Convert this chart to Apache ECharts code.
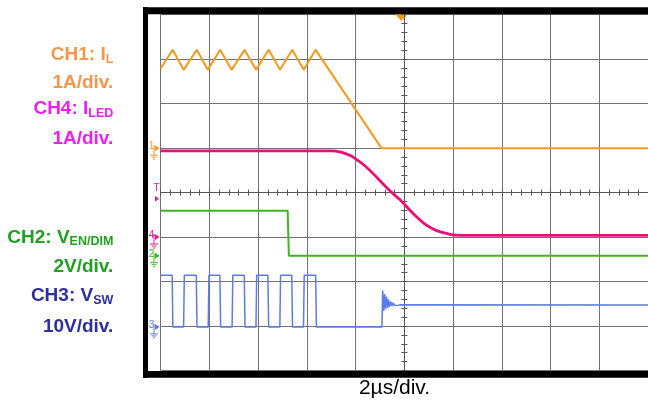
<!DOCTYPE html>
<html><head><meta charset="utf-8">
<script src="https://cdn.jsdelivr.net/npm/echarts@6/dist/echarts.min.js"></script>
<style>html,body{margin:0;padding:0;background:#fff}#c{width:648px;height:402px}</style>
</head><body><div id="c"></div>
<script>
// ---------- data (time in µs, 0 = trigger / screen centre) ----------
const ilTime  = [-10, -9.51, -9.06, -8.52, -8.07, -7.56, -7.09, -6.56, -6.09, -5.57, -5.10, -4.60, -4.13, -3.64, -0.94, 10];
const ilAmp   = [1.79, 2.21, 1.76, 2.21, 1.76, 2.21, 1.76, 2.21, 1.76, 2.21, 1.76, 2.21, 1.76, 2.21, 0, 0];

const iledTime = [-10, -3.0, -2.6, -2.2, -2.0, -1.75, -1.53, -1.25, -0.99, -0.7, -0.43, -0.2, 0, 0.25, 0.51, 0.78, 1.05, 1.3, 1.59, 1.99, 2.5, 10];
const iledAmp  = [1.94, 1.94, 1.91, 1.83, 1.76, 1.66, 1.56, 1.41, 1.26, 1.10, 0.96, 0.85, 0.74, 0.59, 0.45, 0.32, 0.22, 0.15, 0.10, 0.05, 0.04, 0.04];

const venTime = [-10, -4.79, -4.74, 10];
const venVolt = [2.02, 2.02, 0, 0];

const vswTime = [-10, -9.53, -9.50, -9.06, -9.03, -8.54, -8.51, -8.05, -8.02, -7.57, -7.54, -7.07, -7.04, -6.57, -6.54, -6.09, -6.06, -5.60, -5.57, -5.11, -5.08, -4.62, -4.59, -4.14, -4.11, -3.64, -3.61, -0.92,
                 -0.89, -0.85, -0.81, -0.77, -0.73, -0.69, -0.65, -0.61, -0.56, -0.51, -0.46, -0.40, -0.33, -0.25, -0.15, 10];
const vswVolt = [11.6, 11.6, 0, 0, 11.6, 11.6, 0, 0, 11.6, 11.6, 0, 0, 11.6, 11.6, 0, 0, 11.6, 11.6, 0, 0, 11.6, 11.6, 0, 0, 11.6, 11.6, 0, 0,
                 8.2, 3.6, 7.4, 4.0, 6.8, 4.3, 6.2, 4.5, 5.7, 4.7, 5.4, 4.8, 5.2, 4.9, 5.0, 4.9];

// channel texts
const channelNames  = ['CH1: I', 'CH4: I', 'CH2: V', 'CH3: V'];
const channelSubs   = ['L', 'LED', 'EN/DIM', 'SW'];
const channelScales = ['1A/div.', '1A/div.', '2V/div.', '10V/div.'];
const channelNums   = ['1', '4', '2', '3'];
const timeScaleLabel = '2µs/div.';

// ---------- styling ----------
const traceColors = ['#F39A1E', '#EC0C7A', '#3CB521', '#5A7BEA'];
const textColors  = ['#F7964A', '#F01EF0', '#1FA01F', '#2E2EA0'];
const gridColor = '#727272';
const FONT = '"Liberation Sans", Arial, sans-serif';

const zip = (a, b) => a.map((v, i) => [v, b[i]]);

const chart = echarts.init(document.getElementById('c'), null, {renderer: 'canvas'});

const centreAxisX = (pos, split) => ({
  type: 'value', min: -10, max: 10, interval: 2, position: pos,
  axisLine: {show: true, onZero: true, onZeroAxisIndex: 0, lineStyle: {color: '#555', width: 1}},
  axisTick: {show: true, inside: false, length: 3, lineStyle: {color: '#555'}},
  minorTick: {show: true, splitNumber: 5, length: 3, lineStyle: {color: '#555'}},
  axisLabel: {show: false},
  splitLine: {show: split, lineStyle: {color: gridColor, width: 1}}
});
const centreAxisY = (pos, split) => ({
  type: 'value', min: -4, max: 4, interval: 1, position: pos,
  axisLine: {show: true, onZero: true, onZeroAxisIndex: 0, lineStyle: {color: '#555', width: 1}},
  axisTick: {show: true, inside: false, length: 3, lineStyle: {color: '#555'}},
  minorTick: {show: true, splitNumber: 5, length: 3, lineStyle: {color: '#555'}},
  axisLabel: {show: false},
  splitLine: {show: split, lineStyle: {color: gridColor, width: 1}}
});
const hiddenY = (min, max) => ({type: 'value', min: min, max: max, show: false});

chart.setOption({
  animation: false,
  backgroundColor: '#fff',
  grid: {left: 160.7, top: 14.7, width: 494, height: 355.8},
  xAxis: [centreAxisX('bottom', true), centreAxisX('top', false)],
  yAxis: [centreAxisY('left', true), centreAxisY('right', false),
          hiddenY(-5, 3),        // CH1 1A/div, ground 1 div above centre
          hiddenY(-3, 5),        // CH4 1A/div, ground 1 div below centre
          hiddenY(-5.16, 10.84), // CH2 2V/div
          hiddenY(-9.8, 70.2)],  // CH3 10V/div
  series: [
    {type: 'line', name: 'CH3', xAxisIndex: 0, yAxisIndex: 5, data: zip(vswTime, vswVolt), showSymbol: false, symbol: 'none',
     lineStyle: {color: traceColors[3], width: 1.5}, silent: true},
    {type: 'line', name: 'CH2', xAxisIndex: 0, yAxisIndex: 4, data: zip(venTime, venVolt), showSymbol: false, symbol: 'none',
     lineStyle: {color: traceColors[2], width: 2}, silent: true},
    {type: 'line', name: 'CH1', xAxisIndex: 0, yAxisIndex: 2, data: zip(ilTime, ilAmp), showSymbol: false, symbol: 'none',
     lineStyle: {color: traceColors[0], width: 2}, silent: true},
    {type: 'line', name: 'CH4', xAxisIndex: 0, yAxisIndex: 3, data: zip(iledTime, iledAmp), showSymbol: false, symbol: 'none',
     smooth: 0.2, lineStyle: {color: traceColors[1], width: 2.8}, silent: true}
  ]
});

// ---------- decorations ----------
const ctx = document.createElement('canvas').getContext('2d');
const subFont = 'bold 12.5px ' + FONT;
const mainFont = 'bold 19px ' + FONT;
ctx.font = subFont;

const rightEdge = 113.3;
const rowMid = [[54.7, 82.7], [109, 138.3], [237.5, 267.2], [295.8, 326.3]];
const g = [];

channelNames.forEach((nm, i) => {
  const subW = ctx.measureText(channelSubs[i]).width;
  g.push({type: 'text', x: rightEdge - subW, y: rowMid[i][0],
    style: {text: nm, font: mainFont, fill: textColors[i], textAlign: 'right', textVerticalAlign: 'middle', align: 'right', verticalAlign: 'middle'}});
  g.push({type: 'text', x: rightEdge, y: rowMid[i][0] + 4.5,
    style: {text: channelSubs[i], font: subFont, fill: textColors[i], textAlign: 'right', textVerticalAlign: 'middle', align: 'right', verticalAlign: 'middle'}});
  g.push({type: 'text', x: rightEdge, y: rowMid[i][1],
    style: {text: channelScales[i], font: mainFont, fill: textColors[i], textAlign: 'right', textVerticalAlign: 'middle', align: 'right', verticalAlign: 'middle'}});
});

// bottom time-base label
g.push({type: 'text', x: 394.5, y: 388,
  style: {text: timeScaleLabel, font: '21px ' + FONT, fill: '#000', textAlign: 'center', textVerticalAlign: 'middle', align: 'center', verticalAlign: 'middle'}});

// black scope frame
g.push({type: 'rect', shape: {x: 143, y: 7.3, width: 505, height: 6.9}, style: {fill: '#000'}});
g.push({type: 'rect', shape: {x: 143, y: 7.3, width: 5, height: 370.4}, style: {fill: '#000'}});
g.push({type: 'rect', shape: {x: 143, y: 371, width: 505, height: 6.7}, style: {fill: '#000'}});

// channel ground markers
const markerAxis = [2, 3, 4, 5];
const markerColors = ['#F39A1E', '#EC1C8C', '#3CB521', '#5A7BEA'];
markerAxis.forEach((ax, i) => {
  const y = chart.convertToPixel({yAxisIndex: ax}, 0);
  const c = markerColors[i];
  g.push({type: 'text', x: 151.5, y: y - 1.5,
    style: {text: channelNums[i], font: '10px ' + FONT, fill: c, textAlign: 'center', textVerticalAlign: 'middle', align: 'center', verticalAlign: 'middle'}});
  g.push({type: 'polygon', shape: {points: [[155, y - 3], [159.5, y], [155, y + 3]]}, style: {fill: c}});
  g.push({type: 'line', shape: {x1: 154, y1: y - 3, x2: 154, y2: y + 7}, style: {stroke: c, lineWidth: 1}});
  g.push({type: 'line', shape: {x1: 150, y1: y + 7, x2: 158, y2: y + 7}, style: {stroke: c, lineWidth: 1}});
  g.push({type: 'line', shape: {x1: 151.5, y1: y + 9, x2: 156.5, y2: y + 9}, style: {stroke: c, lineWidth: 1}});
  g.push({type: 'line', shape: {x1: 153, y1: y + 11, x2: 155, y2: y + 11}, style: {stroke: c, lineWidth: 1}});
});

// trigger level marker (CH4)
const trigY = chart.convertToPixel({yAxisIndex: 3}, 0.86);
g.push({type: 'text', x: 156.5, y: trigY - 11,
  style: {text: 'T', font: '10px ' + FONT, fill: '#EC1C8C', textAlign: 'center', textVerticalAlign: 'middle', align: 'center', verticalAlign: 'middle'}});
g.push({type: 'polygon', shape: {points: [[155, trigY - 3], [159, trigY], [155, trigY + 3]]}, style: {fill: '#EC1C8C'}});

// trigger position marker (top)
const x0 = chart.convertToPixel({xAxisIndex: 0}, 0);
g.push({type: 'polygon', shape: {points: [[x0 - 9, 14.5], [x0 + 3, 14.5], [x0 - 3, 21]]}, style: {fill: '#F39A1E'}});

chart.setOption({graphic: {elements: g}});
</script>
</body></html>
